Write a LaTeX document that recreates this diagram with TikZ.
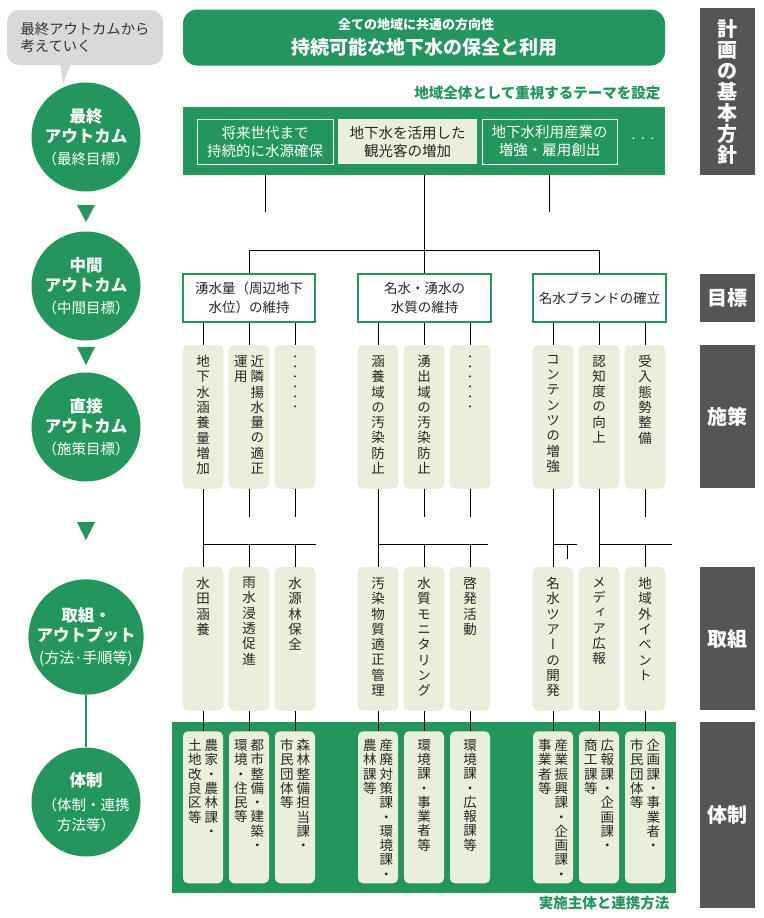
\documentclass[tikz,border=0pt]{standalone}
\usepackage{fontspec}
\setmainfont{Noto Sans CJK JP}
\newfontfamily\vfont[RawFeature=+vert]{Noto Sans CJK JP}
\usepackage{tikz}
\usetikzlibrary{positioning}
\definecolor{mizu}{RGB}{34,150,92}
\definecolor{leaf}{RGB}{233,239,219}
\definecolor{slate}{RGB}{85,85,85}
\definecolor{cloud}{RGB}{217,217,217}
\makeatletter
\newcommand\vcol[1]{\vtop{\lineskiplimit=-\maxdimen\@tfor\vc@ch:=#1\do{\hbox to 1em{\hss\vc@ch\hss}}}}
\makeatother
\newcommand\vtwo[2]{\hbox{\vcol{#2}\kern3pt\vcol{#1}}}
\tikzset{
  outc/.style    = {circle, fill=mizu, minimum size=109pt, inner sep=0pt, text=white,
                    align=center, font=\fontsize{16.5}{20}\selectfont},
  goalbox/.style = {draw=mizu, fill=white, line width=1.1pt, minimum width=132pt,
                    minimum height=48pt, align=center, inner sep=0pt,
                    font=\fontsize{13.5}{19}\selectfont, text=black!85},
  theme/.style   = {draw=white, line width=0.8pt, minimum height=45pt, align=center,
                    text=white, inner sep=0pt, font=\fontsize{14.5}{18}\selectfont},
  strip/.style   = {rounded corners=5pt, fill=leaf, draw=black!15, densely dotted,
                    line width=0.6pt, minimum width=40pt, inner sep=0pt, anchor=north},
  vtxt/.style    = {inner sep=0pt, text=black!85, font=\vfont\fontsize{13.5}{15.3}\selectfont},
  vtxtb/.style   = {vtxt, font=\vfont\fontsize{13.5}{14.3}\selectfont},
  vdots/.style   = {vtxt, font=\vfont\fontsize{9.5}{10}\selectfont},
  sidetag/.style = {fill=slate, text=white, minimum width=55pt, inner sep=0pt,
                    font=\bfseries\fontsize{20}{21}\selectfont},
  wire/.style    = {line width=0.9pt, black},
  greenlab/.style = {anchor=east, text=mizu, font=\bfseries\fontsize{14.5}{17}\selectfont},
}
\begin{document}
\begin{tikzpicture}[x=1pt, y=-1pt]
\useasboundingbox (0,0) rectangle (763,918);

\node[fill=cloud, rounded corners=12pt, minimum width=156pt, minimum height=55pt,
      align=left, font=\fontsize{14.3}{17}\selectfont, text=black!80] (bub) at (85,37.5)
      {最終アウトカムから\\考えていく};
\fill[cloud] (60,63) -- (71,63) -- (63,84) -- cycle;

\node[outc] (c1) at (86,137) {\textbf{最終}\\\textbf{アウトカム}\\[2pt]{\fontsize{14.5}{20}\selectfont （最終目標）}};
\node[outc] (c2) at (86,286) {\textbf{中間}\\\textbf{アウトカム}\\[2pt]{\fontsize{14.5}{20}\selectfont （中間目標）}};
\node[outc] (c3) at (86,427) {\textbf{直接}\\\textbf{アウトカム}\\[2pt]{\fontsize{14.5}{20}\selectfont （施策目標）}};
\node[outc] (c4) at (86,637) {\textbf{取組・}\\\textbf{アウトプット}\\[2pt]{\fontsize{15}{20}\selectfont (方法·手順等)}};
\node[outc] (c5) at (86,802) {\textbf{体制}\\[4pt]{\fontsize{14.5}{20}\selectfont （体制・連携}\\{\fontsize{14.5}{20}\selectfont 方法等）}};
\fill[mizu] (77,205) -- (95,205) -- (86,222) -- cycle;
\fill[mizu] (77,347) -- (95,347) -- (86,365) -- cycle;
\fill[mizu] (77,522) -- (95,522) -- (86,540) -- cycle;
\draw[mizu, line width=1.2pt] (c4) -- (c5);

\node[fill=mizu, rounded corners=14pt, minimum width=482pt, minimum height=56pt] (ban) at (424,37.5) {};
\node[text=white, font=\bfseries\fontsize{13}{16}\selectfont] (ban1) at (416,25) {全ての地域に共通の方向性};
\node[text=white, font=\bfseries\fontsize{19}{22}\selectfont] (ban2) at (424,47) {持続可能な地下水の保全と利用};

\node[greenlab] (thm) at (664,93) {地域全体として重視するテーマを設定};
\node[fill=mizu, minimum width=482pt, minimum height=68pt, inner sep=0pt] (band) at (424,141) {};
\node[theme, minimum width=136pt] (th1) at (265,141.5) {将来世代まで\\持続的に水源確保};
\node[theme, minimum width=139pt, fill=leaf, draw=none, text=black!85] (th2) at (407.5,141.5) {地下水を活用した\\観光客の増加};
\node[theme, minimum width=135pt] (th3) at (549.5,141.5) {地下水利用産業の\\増強・雇用創出};
\node[text=white, font=\fontsize{13}{15}\selectfont] (th4) at (643,141) {·\,·\,·};

\node[goalbox] (g1) at (249,298) {湧水量（周辺地下\\水位）の維持};
\node[goalbox, minimum width=133pt] (g2) at (424.5,298) {名水・湧水の\\水質の維持};
\node[goalbox, minimum width=133pt] (g3) at (599.5,298) {名水ブランドの確立};

\node[strip, minimum height=143pt] (s1) at (203,345) {};
\node[strip, minimum height=143pt] (s2) at (249,345) {};
\node[strip, minimum height=143pt] (s3) at (295,345) {};
\node[strip, minimum height=143pt] (s4) at (378,345) {};
\node[strip, minimum height=143pt] (s5) at (424,345) {};
\node[strip, minimum height=143pt] (s6) at (470,345) {};
\node[strip, minimum height=143pt] (s7) at (553,345) {};
\node[strip, minimum height=143pt] (s8) at (599,345) {};
\node[strip, minimum height=143pt] (s9) at (645,345) {};
\node[vtxt, below=10pt of s1.north] (s1t) {\vcol{地下水涵養量増加}};
\node[vtxt, below=10pt of s2.north] (s2t) {\vtwo{近隣揚水量の適正}{運用}};
\node[vdots, below=11pt of s3.north] (s3t) {\vcol{・・・・・・}};
\node[vtxt, below=10pt of s4.north] (s4t) {\vcol{涵養域の汚染防止}};
\node[vtxt, below=10pt of s5.north] (s5t) {\vcol{湧出域の汚染防止}};
\node[vdots, below=11pt of s6.north] (s6t) {\vcol{・・・・・・}};
\node[vtxt, below=10pt of s7.north] (s7t) {\vcol{コンテンツの増強}};
\node[vtxt, below=10pt of s8.north] (s8t) {\vcol{認知度の向上}};
\node[vtxt, below=10pt of s9.north] (s9t) {\vcol{受入態勢整備}};

\node[strip, minimum height=143pt] (a1) at (203,567) {};
\node[strip, minimum height=143pt] (a2) at (249,567) {};
\node[strip, minimum height=143pt] (a3) at (295,567) {};
\node[strip, minimum height=143pt] (a4) at (378,567) {};
\node[strip, minimum height=143pt] (a5) at (424,567) {};
\node[strip, minimum height=143pt] (a6) at (470,567) {};
\node[strip, minimum height=143pt] (a7) at (553,567) {};
\node[strip, minimum height=143pt] (a8) at (599,567) {};
\node[strip, minimum height=143pt] (a9) at (645,567) {};
\node[vtxt, below=10pt of a1.north] (a1t) {\vcol{水田涵養}};
\node[vtxt, below=10pt of a2.north] (a2t) {\vcol{雨水浸透促進}};
\node[vtxt, below=10pt of a3.north] (a3t) {\vcol{水源林保全}};
\node[vtxt, below=10pt of a4.north] (a4t) {\vcol{汚染物質適正管理}};
\node[vtxt, below=10pt of a5.north] (a5t) {\vcol{水質モニタリング}};
\node[vtxt, below=10pt of a6.north] (a6t) {\vcol{啓発活動}};
\node[vtxt, below=10pt of a7.north] (a7t) {\vcol{名水ツアーの開発}};
\node[vtxt, below=10pt of a8.north] (a8t) {\vcol{メディア広報}};
\node[vtxt, below=10pt of a9.north] (a9t) {\vcol{地域外イベント}};

\node[fill=mizu, minimum width=504pt, minimum height=171pt, inner sep=0pt, anchor=north west] (sysband) at (172,722) {};
\node[greenlab] (syslab) at (673,903) {実施主体と連携方法};
\node[strip, draw=none, minimum height=152pt] (b1) at (203,731) {};
\node[strip, draw=none, minimum height=152pt] (b2) at (249,731) {};
\node[strip, draw=none, minimum height=152pt] (b3) at (295,731) {};
\node[strip, draw=none, minimum height=152pt] (b4) at (378,731) {};
\node[strip, draw=none, minimum height=152pt] (b5) at (424,731) {};
\node[strip, draw=none, minimum height=152pt] (b6) at (470,731) {};
\node[strip, draw=none, minimum height=152pt] (b7) at (553,731) {};
\node[strip, draw=none, minimum height=152pt] (b8) at (599,731) {};
\node[strip, draw=none, minimum height=152pt] (b9) at (645,731) {};
\node[vtxtb, below=8pt of b1.north] (b1t) {\vtwo{農家・農林課・}{土地改良区等}};
\node[vtxtb, below=8pt of b2.north] (b2t) {\vtwo{都市整備・建築・}{環境・住民等}};
\node[vtxtb, below=8pt of b3.north] (b3t) {\vtwo{森林整備担当課・}{市民団体等}};
\node[vtxtb, below=8pt of b4.north] (b4t) {\vtwo{産廃対策課・環境課・}{農林課等}};
\node[vtxtb, below=8pt of b5.north] (b5t) {\vcol{環境課・事業者等}};
\node[vtxtb, below=8pt of b6.north] (b6t) {\vcol{環境課・広報課等}};
\node[vtxtb, below=8pt of b7.north] (b7t) {\vtwo{産業振興課・企画課・}{事業者等}};
\node[vtxtb, below=8pt of b8.north] (b8t) {\vtwo{広報課・企画課・}{商工課等}};
\node[vtxtb, below=8pt of b9.north] (b9t) {\vtwo{企画課・事業者・}{市民団体等}};

\node[sidetag, minimum height=167pt] (tg1) at (727.5,91.5) {\vcol{計画の基本方針}};
\node[sidetag, minimum height=48pt] (tg2) at (727.5,298) {目標};
\node[sidetag, minimum height=143pt] (tg3) at (727.5,416.5) {施策};
\node[sidetag, minimum height=143pt] (tg4) at (727.5,638.5) {取組};
\node[sidetag, minimum height=186pt] (tg5) at (727.5,815) {体制};

\coordinate (lv1) at (0,212);
\coordinate (lv2) at (0,250);
\coordinate (lv3) at (0,517);
\coordinate (lv4) at (0,544);
\coordinate (e1) at (316,544);
\coordinate (e2) at (488,544);
\coordinate (e3) at (577,544);
\coordinate (e4) at (567,544);
\coordinate (e5) at (567,559);
\coordinate (e6) at (672,544);

\draw[wire] (band.south -| th1) -- (lv1 -| th1) (band.south -| th3) -- (lv1 -| th3);
\draw[wire] (band.south -| g2) -- (g2.north);
\draw[wire] (g1.north) -- (lv2 -| g1) -- (lv2 -| g3) -- (g3.north);

\draw[wire] (g1.south -| s1) -- (s1.north) (g1.south -| s2) -- (s2.north) (g1.south -| s3) -- (s3.north);
\draw[wire] (g2.south -| s4) -- (s4.north) (g2.south -| s5) -- (s5.north) (g2.south -| s6) -- (s6.north);
\draw[wire] (g3.south -| s7) -- (s7.north) (g3.south -| s8) -- (s8.north) (g3.south -| s9) -- (s9.north);

\draw[wire] (s1.south) -- (a1.north) (s2.south) -- (lv3 -| s2) (s3.south) -- (lv3 -| s3);
\draw[wire] (lv4 -| a1) -- (e1) (a2.north) -- (lv4 -| a2) (a3.north) -- (lv4 -| a3);
\draw[wire] (s4.south) -- (a4.north) (s5.south) -- (lv3 -| s5) (s6.south) -- (lv3 -| s6);
\draw[wire] (lv4 -| a4) -- (e2) (a5.north) -- (lv4 -| a5) (a6.north) -- (lv4 -| a6);
\draw[wire] (s7.south) -- (a7.north) (lv4 -| a7) -- (e3) (e4) -- (e5);
\draw[wire] (s8.south) -- (a8.north) (lv4 -| a8) -- (e6) (s9.south) -- (lv3 -| s9);
\draw[wire] (a9.north) -- (lv4 -| a9);

\draw[wire] (a1.south) -- (b1.north) (a2.south) -- (b2.north) (a3.south) -- (b3.north);
\draw[wire] (a4.south) -- (b4.north) (a5.south) -- (b5.north) (a6.south) -- (b6.north);
\draw[wire] (a7.south) -- (b7.north) (a8.south) -- (b8.north) (a9.south) -- (b9.north);
\end{tikzpicture}
\end{document}
